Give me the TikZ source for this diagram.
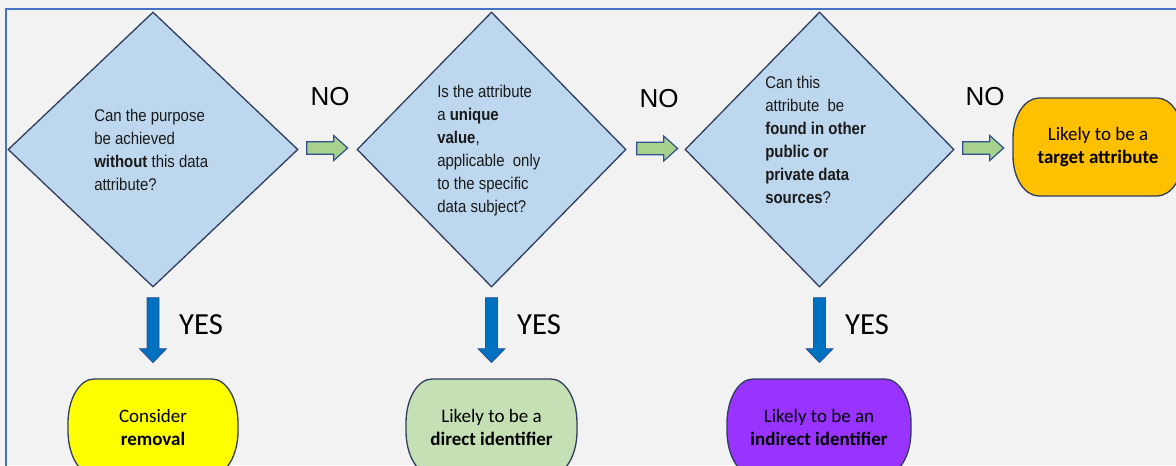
\documentclass[tikz,border=0pt]{standalone}
\usepackage{fontspec}
\setmainfont{Liberation Sans}
\newfontfamily\narrowfont[FakeStretch=0.88]{Liberation Sans}
\newfontfamily\calfont{Carlito}
\usetikzlibrary{shapes.geometric,calc,backgrounds}
\definecolor{bgc}{HTML}{F2F2F2}
\definecolor{framec}{HTML}{4472C4}
\definecolor{diafill}{HTML}{BDD7EE}
\definecolor{navy}{HTML}{2F3D5E}
\definecolor{greenarr}{HTML}{A9D18E}
\definecolor{bluearr}{HTML}{0070C0}
\definecolor{arrline}{HTML}{2F528F}
\definecolor{yellowbox}{HTML}{FFFF00}
\definecolor{greenbox}{HTML}{C5E0B4}
\definecolor{purplebox}{HTML}{9933FF}
\definecolor{orangebox}{HTML}{FFC000}
\definecolor{txt}{HTML}{1A1A1A}
\newlength{\pxl}\setlength{\pxl}{0.75pt}
% outline with elliptical corners round a named node: #1 node, #2 fill, #3 rx, #4 ry
\newcommand\ovalbox[4]{%
  \draw[draw=navy,fill=#2,line width=1.3\pxl]
    ($(#1.north west)+(0,#4)$)
      .. controls ($(#1.north west)+(0,0.448*#4)$) and ($(#1.north west)+(0.448*#3,0)$) .. ($(#1.north west)+(#3,0)$)
    -- ($(#1.north east)+(-#3,0)$)
      .. controls ($(#1.north east)+(-0.448*#3,0)$) and ($(#1.north east)+(0,0.448*#4)$) .. ($(#1.north east)+(0,#4)$)
    -- ($(#1.south east)+(0,-#4)$)
      .. controls ($(#1.south east)+(0,-0.448*#4)$) and ($(#1.south east)+(-0.448*#3,0)$) .. ($(#1.south east)+(-#3,0)$)
    -- ($(#1.south west)+(#3,0)$)
      .. controls ($(#1.south west)+(0.448*#3,0)$) and ($(#1.south west)+(0,-0.448*#4)$) .. ($(#1.south west)+(0,-#4)$)
    -- cycle;}
\begin{document}
\begin{tikzpicture}[x=0.75pt,y=-0.75pt,
  question/.style={diamond,draw=navy,fill=diafill,line width=1.3\pxl,inner sep=0pt,minimum height=275\pxl},
  qtext/.style={anchor=west,align=left,inner sep=0pt,text=txt,font=\narrowfont\fontsize{12.75pt}{17.25pt}\selectfont},
  outcome/.style={rectangle,inner sep=0pt,outer sep=0pt,align=center,text=black,
    font=\calfont\fontsize{14.25pt}{17.25pt}\selectfont,minimum height=98\pxl},
  nolabel/.style={text=black,font=\fontsize{19.5pt}{22pt}\selectfont},
  yeslabel/.style={text=black,font=\calfont\fontsize{23pt}{26pt}\selectfont},
  noarrow/.style={draw=arrline,fill=greenarr,line width=1.2\pxl,line join=miter},
  yesarrow/.style={draw=arrline,fill=bluearr,line width=0.8\pxl,line join=miter}]
\useasboundingbox (0,0) rectangle (1176,465);
\clip (0,0) rectangle (1176,465);
\begin{pgfonlayer}{background}
\fill[bgc] (0,0) rectangle (1176,465);
\end{pgfonlayer}
\draw[framec,line width=2\pxl] (6,9) rectangle (1190,480);

% decisions
\node[question,minimum width=290\pxl] (d1) at (153,149.5) {};
\node[question,minimum width=269\pxl] (d2) at (491.5,149.5) {};
\node[question,minimum width=269\pxl] (d3) at (819.5,149.5) {};

\node[qtext] (q1) at (94,150) {Can the purpose\\be achieved\\\textbf{without} this data\\attribute?};
\node[qtext] (q2) at (437,151) {Is the attribute\\a \textbf{unique}\\\textbf{value},\\applicable\ \ only\\to the specific\\data subject?};
\node[qtext] (q3) at (765,139.5) {Can this\\attribute\ \ be\\\textbf{found in other}\\\textbf{public or}\\\textbf{private data}\\\textbf{sources}?};

% outcomes
\node[outcome,minimum width=170\pxl] (t) at (1098,147) {Likely to be a\\\textbf{target attribute}};
\node[outcome,minimum width=170\pxl,minimum height=96\pxl] (b1) at (153,427) {Consider\\\textbf{removal}};
\node[outcome,minimum width=171\pxl,minimum height=96\pxl] (b2) at (491.5,427) {Likely to be a\\\textbf{direct identifier}};
\node[outcome,minimum width=184\pxl,minimum height=96\pxl] (b3) at (819,427) {Likely to be an\\\textbf{indirect identifier}};
\begin{pgfonlayer}{background}
\ovalbox{t}{orangebox}{26}{40}
\ovalbox{b1}{yellowbox}{26}{44}
\ovalbox{b2}{greenbox}{26}{44}
\ovalbox{b3}{purplebox}{26}{44}
\end{pgfonlayer}

% NO arrows
\coordinate (n1) at ($(d1.east)+(8,-1.5)$);
\coordinate (n2) at ($(d2.east)+(10,-1)$);
\coordinate (n3) at ($(d3.east)+(8,-1.5)$);
\foreach \c in {n1,n2,n3}{
  \draw[noarrow] (\c) ++(0,-6.3) -- ++(27,0) -- ++(0,-6.2) -- ++(14,12.5) -- ++(-14,12.5) -- ++(0,-6.2) -- ++(-27,0) -- cycle;
}
\node[nolabel] (no1) at (330,97) {NO};
\node[nolabel] (no2) at (659,99) {NO};
\node[nolabel] (no3) at (985,97) {NO};

% YES arrows
\coordinate (y1) at ($(d1.south)+(0,10)$);
\coordinate (y2) at ($(d2.south)+(0,10)$);
\coordinate (y3) at ($(d3.south)+(0,10)$);
\foreach \c in {y1,y2,y3}{
  \draw[yesarrow] (\c) ++(-6,0) -- ++(0,51) -- ++(-7.5,0) -- ++(13.5,14) -- ++(13.5,-14) -- ++(-7.5,0) -- ++(0,-51) -- cycle;
}
\node[yeslabel] (yes1) at (201,325) {YES};
\node[yeslabel] (yes2) at (539,325) {YES};
\node[yeslabel] (yes3) at (867,325) {YES};
\end{tikzpicture}
\end{document}
